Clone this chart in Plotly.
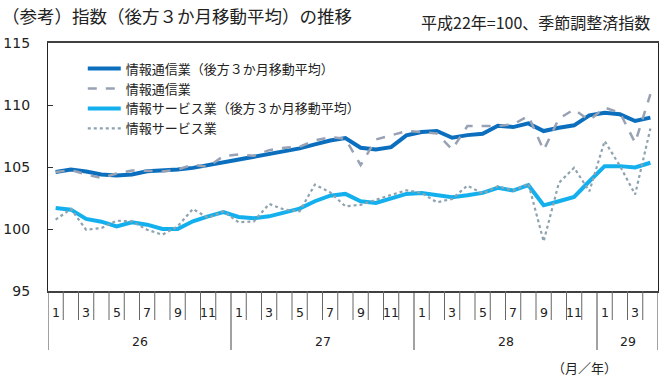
import plotly.graph_objects as go

months = [1, 2, 3, 4, 5, 6, 7, 8, 9, 10, 11, 12] * 3 + [1, 2, 3, 4]
years = [26] * 12 + [27] * 12 + [28] * 12 + [29] * 4

tsushin_ma = [104.59, 104.80, 104.64, 104.39, 104.31, 104.39, 104.66, 104.69, 104.80, 104.93,
              105.15, 105.42, 105.61, 105.88, 106.09, 106.28, 106.50, 106.82, 107.14, 107.33,
              106.55, 106.42, 106.60, 107.55, 107.82, 107.90, 107.36, 107.57, 107.68, 108.33,
              108.22, 108.52, 107.90, 108.17, 108.36, 109.17, 109.38, 109.25, 108.71, 108.98]
tsushin = [104.60, 104.75, 104.40, 104.12, 104.47, 104.72, 104.70, 104.64, 104.80, 105.18,
           105.02, 105.88, 106.01, 105.90, 106.36, 106.55, 106.63, 107.14, 107.41, 107.28,
           105.15, 107.22, 107.55, 107.90, 107.82, 107.71, 106.42, 108.30, 108.30, 108.30,
           108.44, 109.11, 106.36, 108.90, 109.65, 108.76, 109.79, 109.38, 106.96, 110.87]
service_ma = [101.70, 101.56, 100.81, 100.59, 100.21, 100.54, 100.35, 100.00, 100.00, 100.62,
              101.02, 101.37, 100.97, 100.86, 101.02, 101.35, 101.64, 102.24, 102.69, 102.83,
              102.24, 102.10, 102.43, 102.83, 102.91, 102.72, 102.56, 102.72, 102.91, 103.32,
              103.10, 103.53, 101.91, 102.24, 102.59, 103.85, 105.07, 105.07, 104.96, 105.34]
service = [100.75, 101.62, 99.94, 100.08, 100.67, 100.62, 99.94, 99.54, 100.21, 101.62,
           100.89, 101.43, 100.54, 100.62, 102.02, 101.56, 101.43, 103.58, 102.96, 101.83,
           101.95, 102.37, 102.75, 103.12, 102.91, 102.15, 102.43, 103.50, 102.86, 103.45,
           103.10, 103.66, 99.00, 103.72, 104.94, 103.04, 107.09, 105.10, 102.78, 108.10]

names = ["情報通信業（後方３か月移動平均）", "情報通信業",
         "情報サービス業（後方３か月移動平均）", "情報サービス業"]
y_ticks = [95, 100, 105, 110, 115]

x = list(range(len(months)))
JP = "Noto Sans CJK JP"
NUM = "DejaVu Sans"

fig = go.Figure()
fig.add_trace(go.Scatter(x=x, y=tsushin_ma, name=names[0], mode="lines",
                         line=dict(color="#0B6FBE", width=4)))
fig.add_trace(go.Scatter(x=x, y=tsushin, name=names[1], mode="lines",
                         line=dict(color="#98A2B4", width=2.5, dash="dash")))
fig.add_trace(go.Scatter(x=x, y=service_ma, name=names[2], mode="lines",
                         line=dict(color="#14B0EE", width=4)))
fig.add_trace(go.Scatter(x=x, y=service, name=names[3], mode="lines",
                         line=dict(color="#8DA3AF", width=2.2, dash="dot")))

shapes = []
n = len(months)
for k in range(n + 1):
    is_year = (k == 0 or k == n or months[k] == 1)
    shapes.append(dict(type="line", xref="x", yref="paper",
                       x0=k - 0.5, x1=k - 0.5, y0=0,
                       y1=(-59 / 248) if is_year else (-29 / 248),
                       line=dict(color="#444444" if is_year else "#666666", width=1)))

annotations = []
for i, m in enumerate(months):
    if m % 2 == 1:
        annotations.append(dict(x=i, y=0, xref="x", yref="paper", text=str(m),
                                showarrow=False, yanchor="middle", yshift=-21,
                                font=dict(family=NUM, size=12.5, color="#222222")))
year_list = []
for yv in years:
    if yv not in year_list:
        year_list.append(yv)
for yv in year_list:
    idx = [i for i, v in enumerate(years) if v == yv]
    annotations.append(dict(x=(idx[0] + idx[-1]) / 2, y=0, xref="x", yref="paper",
                            text=str(yv), showarrow=False, yanchor="middle", yshift=-50,
                            font=dict(family=NUM, size=12.5, color="#222222")))
annotations.append(dict(x=0.936, y=0, xref="paper", yref="paper", text="（月／年）",
                        showarrow=False, yanchor="middle", yshift=-76,
                        font=dict(family=JP, size=13, color="#222222")))
annotations.append(dict(x=-48 / 610, y=1, xref="paper", yref="paper",
                        text="（参考）指数（後方３か月移動平均）の推移",
                        showarrow=False, xanchor="left", yanchor="middle", yshift=28,
                        font=dict(family=JP, size=17.5, color="#222222")))
annotations.append(dict(x=0.99, y=1, xref="paper", yref="paper",
                        text="平成22年=100、季節調整済指数",
                        showarrow=False, xanchor="right", yanchor="middle", yshift=21,
                        font=dict(family=JP, size=16, color="#222222")))

fig.update_layout(
    width=670, height=380, autosize=False,
    margin=dict(l=48, r=12, t=43, b=89),
    paper_bgcolor="white", plot_bgcolor="white",
    showlegend=True,
    legend=dict(x=0.057, y=0.957, xanchor="left", yanchor="top", itemwidth=33,
                bgcolor="rgba(0,0,0,0)", tracegroupgap=0,
                font=dict(family=JP, size=13, color="#222222")),
    xaxis=dict(range=[-0.5, n - 0.5], showticklabels=False, ticks="",
               showgrid=False, zeroline=False, showline=True, mirror=True,
               linecolor="#404040", linewidth=2, automargin=False),
    yaxis=dict(range=[95, 115], tickvals=y_ticks, ticks="inside", ticklen=5,
               tickcolor="#333333", showgrid=False, zeroline=False,
               showline=True, mirror=True, linecolor="#222222", linewidth=1.3,
               ticklabelstandoff=14, automargin=False,
               tickfont=dict(family=NUM, size=14, color="#222222")),
    shapes=shapes, annotations=annotations,
)

fig.write_html("out.html", config={"displayModeBar": False},
               post_script="document.body.style.margin='0';document.body.style.overflow='hidden';")
